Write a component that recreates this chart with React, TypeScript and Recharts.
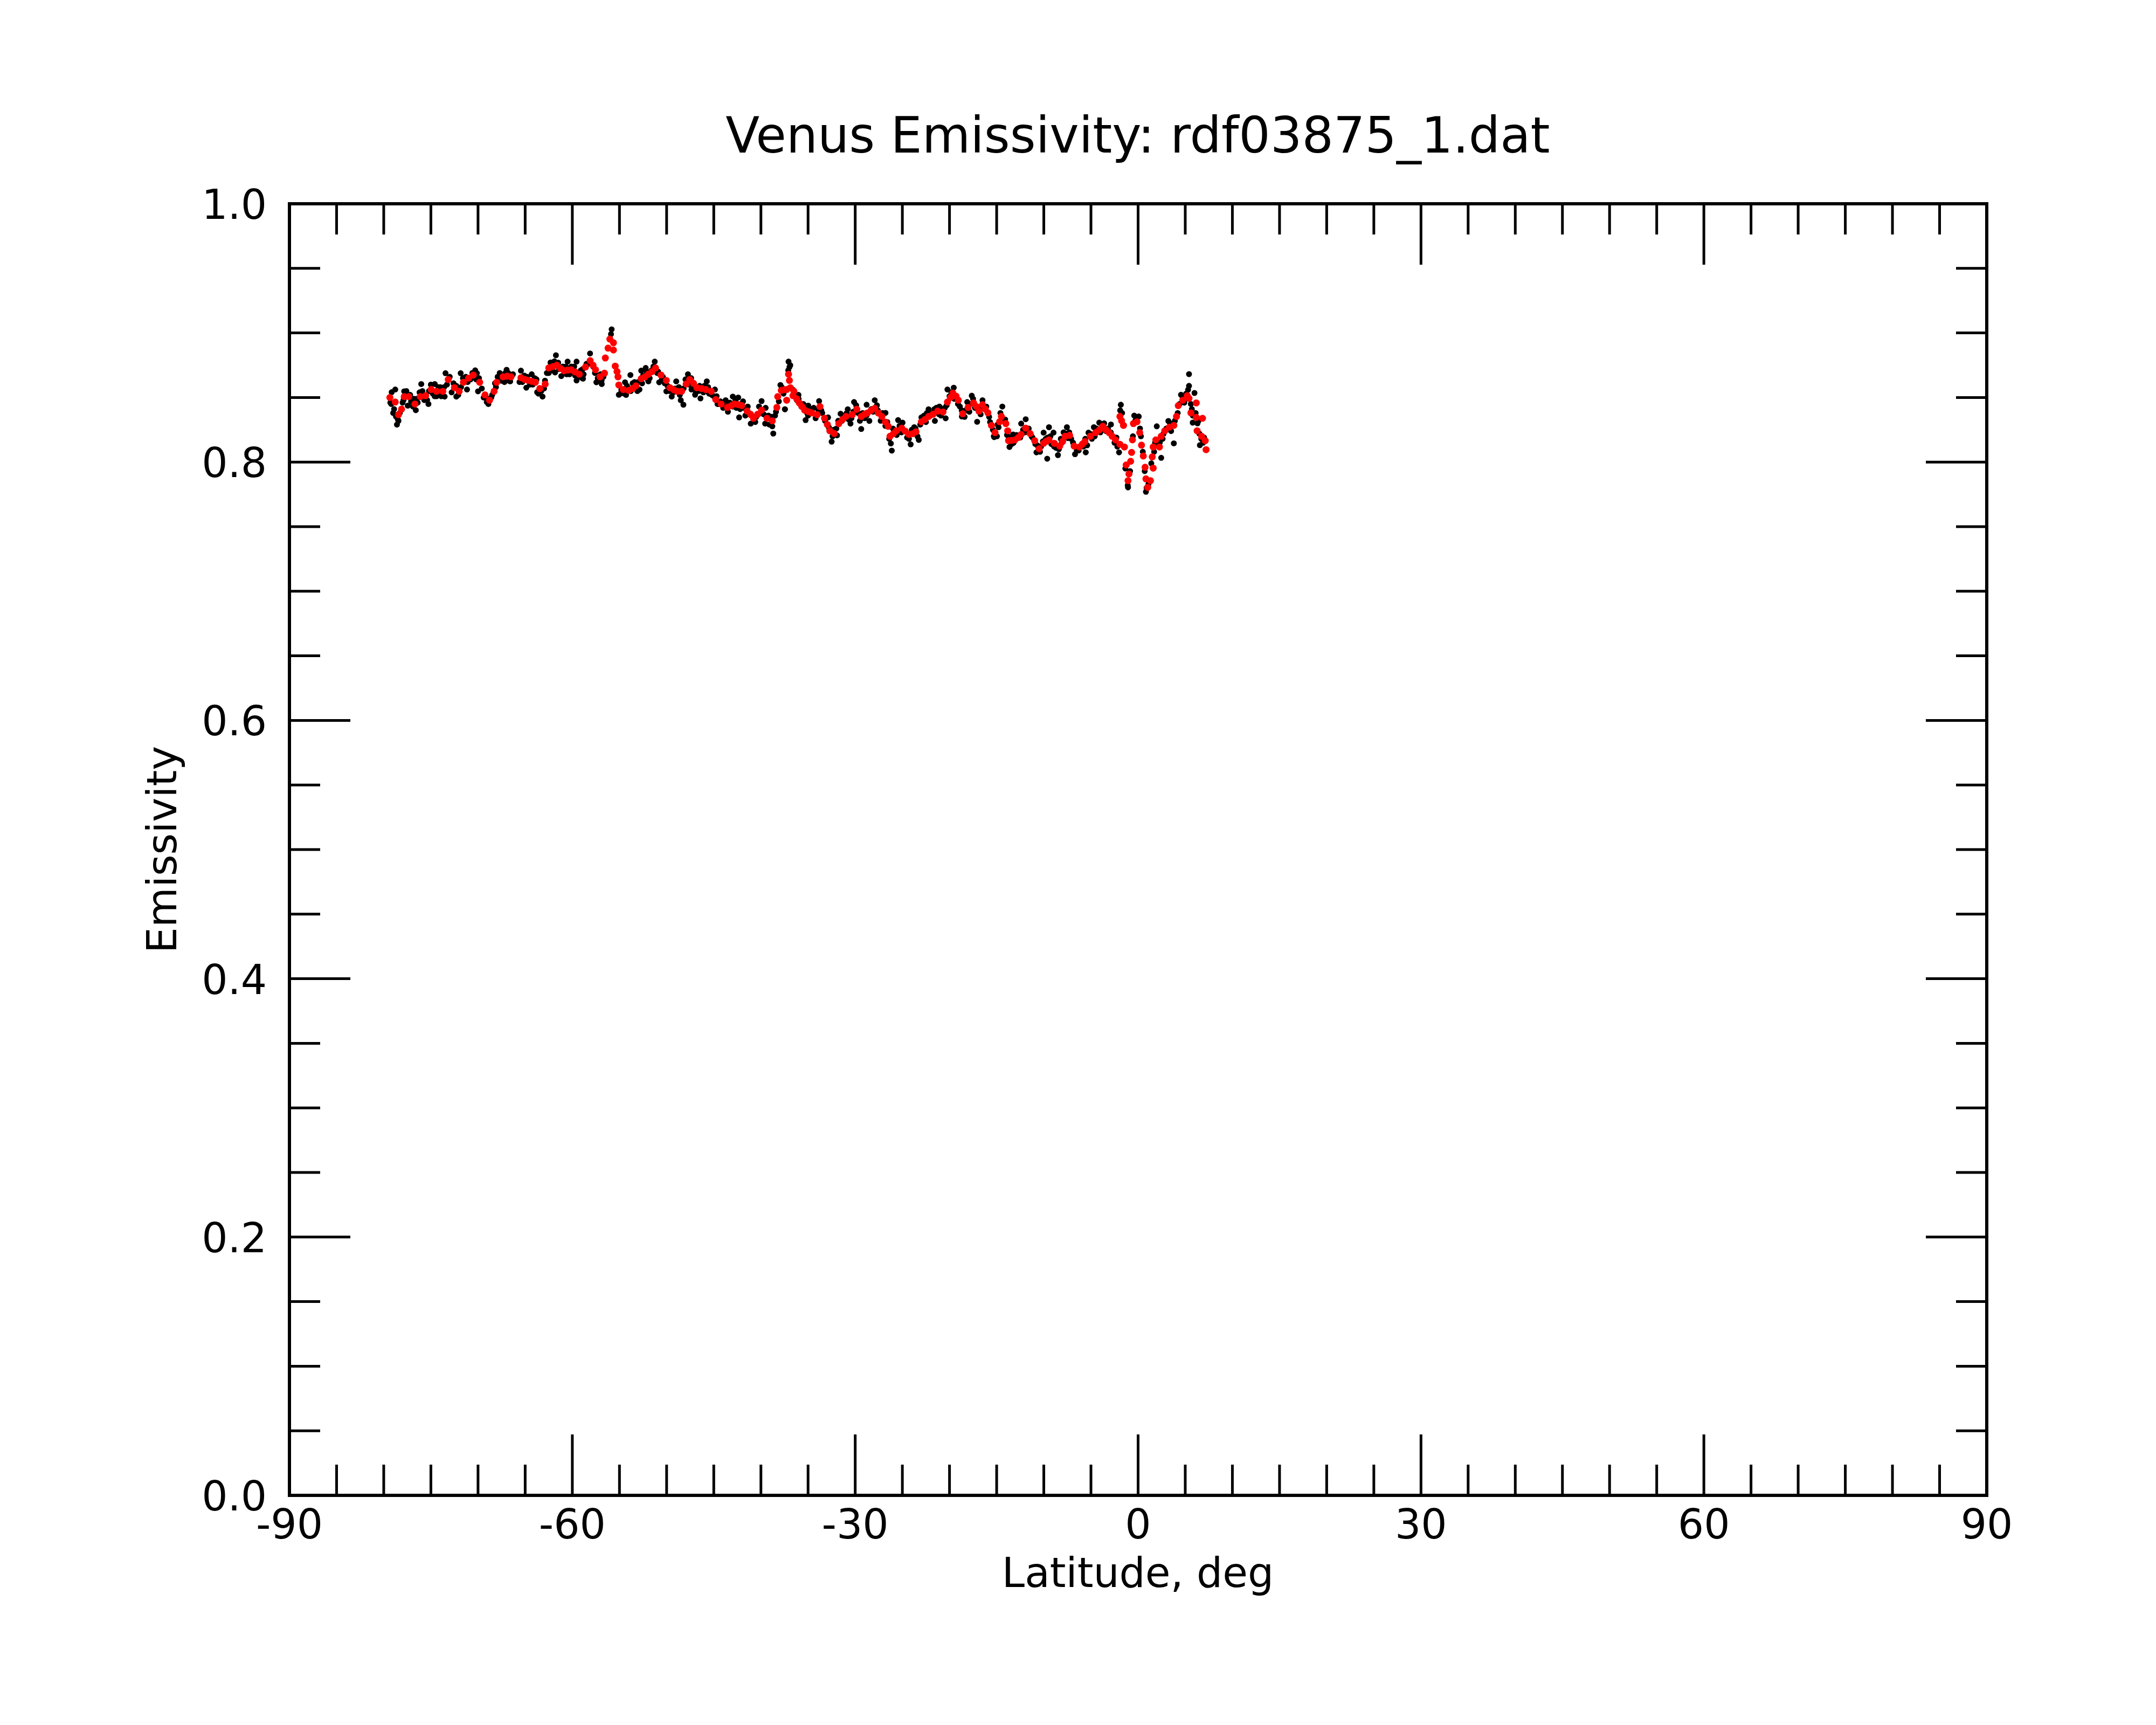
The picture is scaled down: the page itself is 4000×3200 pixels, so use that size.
import { ScatterChart, Scatter, XAxis, YAxis, ReferenceArea } from 'recharts'

// latitude (deg), emissivity — smoothed fit, drawn red
const RED_POINTS: [number, number][] = [
  [-79.35, 0.850], [-78.78, 0.8465], [-78.44, 0.8367], [-78.11, 0.841], [-77.83, 0.8507],
  [-77.35, 0.8507], [-76.69, 0.845], [-76.12, 0.8507], [-75.55, 0.8514], [-74.97, 0.8562],
  [-74.4, 0.8548], [-73.73, 0.8548], [-73.16, 0.8639], [-72.5, 0.8576], [-72.0, 0.8548],
  [-71.55, 0.8618], [-71.0, 0.865], [-70.5, 0.8674], [-69.83, 0.8618], [-69.26, 0.852],
  [-68.78, 0.8479], [-68.3, 0.8548], [-68.02, 0.8618], [-67.35, 0.866], [-66.9, 0.8665],
  [-66.5, 0.866], [-65.45, 0.8653], [-65.05, 0.864], [-64.69, 0.8632], [-64.3, 0.8625],
  [-63.92, 0.8618], [-63.45, 0.8569], [-62.88, 0.8604], [-62.5, 0.8729], [-62.05, 0.874],
  [-61.64, 0.875], [-61.25, 0.8725], [-60.88, 0.8708], [-60.5, 0.8712], [-60.12, 0.8715],
  [-59.7, 0.8698], [-59.26, 0.868], [-58.6, 0.8736], [-58.11, 0.8785], [-57.8, 0.875],
  [-57.54, 0.8715], [-57.06, 0.866], [-56.59, 0.8688], [-56.5, 0.8806], [-56.21, 0.8882],
  [-56.02, 0.8952], [-55.64, 0.8924], [-55.64, 0.8868], [-55.45, 0.8743], [-55.26, 0.8701],
  [-55.16, 0.866], [-55.07, 0.8597], [-54.6, 0.8562], [-54.03, 0.8555], [-53.6, 0.857],
  [-53.26, 0.859], [-52.69, 0.8646], [-52.3, 0.866], [-51.93, 0.868], [-51.55, 0.870],
  [-51.17, 0.8729], [-50.6, 0.8674], [-50.03, 0.8632], [-49.65, 0.8576], [-49.25, 0.856],
  [-48.88, 0.8548], [-48.41, 0.8548], [-47.93, 0.8604], [-47.55, 0.8639], [-47.15, 0.861],
  [-46.79, 0.8576], [-46.3, 0.857], [-45.84, 0.8562], [-45.27, 0.8548], [-44.79, 0.8484],
  [-44.22, 0.845], [-43.55, 0.8423], [-43.15, 0.8437], [-42.79, 0.845], [-42.4, 0.8445],
  [-42.03, 0.8437], [-41.46, 0.8395], [-41.1, 0.837], [-40.79, 0.8339], [-40.35, 0.837],
  [-39.93, 0.8402], [-39.36, 0.8339], [-38.79, 0.8319], [-38.31, 0.8423], [-38.22, 0.8507],
  [-37.84, 0.8555], [-37.55, 0.856], [-37.27, 0.8562], [-37.27, 0.8479], [-37.07, 0.868],
  [-36.98, 0.8632], [-36.88, 0.8576], [-36.6, 0.8514], [-36.5, 0.8548], [-36.2, 0.849],
  [-35.93, 0.8458], [-35.65, 0.843], [-35.36, 0.8402], [-34.95, 0.839], [-34.6, 0.8381],
  [-34.03, 0.8367], [-33.74, 0.843], [-33.26, 0.834], [-32.95, 0.829], [-32.69, 0.8242],
  [-32.22, 0.8221], [-31.74, 0.8298], [-31.35, 0.833], [-30.98, 0.8353], [-30.31, 0.8367],
  [-29.84, 0.8409], [-29.36, 0.8353], [-29.0, 0.837], [-28.69, 0.8381], [-28.3, 0.840],
  [-27.93, 0.8416], [-27.55, 0.838], [-27.17, 0.8353], [-26.8, 0.831], [-26.5, 0.8277],
  [-26.31, 0.82], [-25.95, 0.822], [-25.64, 0.8242], [-25.07, 0.8263], [-24.7, 0.824],
  [-24.31, 0.8214], [-23.9, 0.822], [-23.55, 0.8235], [-22.98, 0.8312], [-22.6, 0.833],
  [-22.22, 0.8353], [-21.75, 0.837], [-21.26, 0.8395], [-20.69, 0.8388], [-20.22, 0.8465],
  [-19.9, 0.850], [-19.64, 0.8534], [-19.3, 0.851], [-19.07, 0.8479], [-18.6, 0.8374],
  [-18.03, 0.8423], [-17.45, 0.8458], [-17.15, 0.843], [-16.88, 0.8395], [-16.5, 0.8444],
  [-16.2, 0.841], [-15.93, 0.8381], [-15.55, 0.8284], [-15.17, 0.8228], [-14.69, 0.8312],
  [-14.5, 0.8353], [-14.02, 0.8298], [-13.83, 0.8242], [-13.74, 0.8166], [-13.4, 0.8168],
  [-13.06, 0.8172], [-12.7, 0.819], [-12.4, 0.8214], [-11.92, 0.8263], [-11.45, 0.8221],
  [-10.97, 0.8166], [-10.5, 0.8103], [-10.02, 0.8145], [-9.75, 0.816], [-9.45, 0.8172],
  [-8.88, 0.8145], [-8.31, 0.8124], [-8.0, 0.816], [-7.74, 0.82], [-7.26, 0.8207],
  [-6.79, 0.8124], [-6.22, 0.8117], [-5.9, 0.814], [-5.64, 0.8159], [-5.07, 0.82],
  [-4.5, 0.8228], [-4.1, 0.825], [-3.74, 0.8277], [-3.4, 0.825], [-3.07, 0.8228],
  [-2.75, 0.820], [-2.4, 0.8172], [-1.93, 0.8138], [-1.93, 0.8353], [-1.75, 0.832],
  [-1.55, 0.8284], [-1.45, 0.8117], [-1.26, 0.7978], [-1.07, 0.7856], [-0.97, 0.7908],
  [-0.79, 0.8006], [-0.69, 0.8075], [-0.6, 0.8172], [-0.5, 0.8298], [-0.12, 0.8312],
  [0.17, 0.8228], [0.36, 0.8131], [0.55, 0.8047], [0.74, 0.796], [0.83, 0.787],
  [1.02, 0.7804], [1.31, 0.7856], [1.5, 0.804], [1.6, 0.7953], [1.6, 0.8117],
  [1.88, 0.8172], [2.26, 0.8117], [2.45, 0.82], [2.83, 0.8242], [3.31, 0.827],
  [3.79, 0.8284], [4.07, 0.8353], [4.26, 0.8437], [4.74, 0.8479], [5.21, 0.8514],
  [5.4, 0.8493], [5.6, 0.8381], [6.17, 0.8346], [6.17, 0.8458], [6.26, 0.8242],
  [6.74, 0.82], [6.83, 0.8339], [7.12, 0.8166], [7.21, 0.8096],
]

// latitude (deg), emissivity — individual samples, drawn black
const BLACK_POINTS: [number, number][] = [
  [-79.3, 0.846], [-79.16, 0.8541], [-79.2, 0.845], [-78.9, 0.841], [-78.78, 0.8562],
  [-78.7, 0.8353], [-78.5, 0.833], [-78.44, 0.8319], [-78.0, 0.846], [-77.83, 0.8548],
  [-77.6, 0.855], [-77.45, 0.8437], [-77.1, 0.847], [-76.8, 0.849], [-76.6, 0.8402],
  [-76.4, 0.846], [-76.02, 0.8604], [-75.9, 0.855], [-75.4, 0.848], [-75.26, 0.845],
  [-75.0, 0.860], [-74.59, 0.8604], [-74.6, 0.851], [-74.2, 0.858], [-74.1, 0.8527],
  [-73.9, 0.851], [-73.54, 0.8507], [-73.45, 0.8688], [-73.3, 0.860], [-72.8, 0.854],
  [-72.3, 0.8507], [-72.3, 0.859], [-71.84, 0.8688], [-71.8, 0.858], [-71.3, 0.866],
  [-71.17, 0.8562], [-70.8, 0.864], [-70.3, 0.871], [-70.12, 0.8688], [-70.0, 0.8548],
  [-69.6, 0.857], [-69.07, 0.8465], [-69.0, 0.849], [-68.5, 0.852], [-68.1, 0.858],
  [-67.92, 0.866], [-67.7, 0.869], [-67.2, 0.862], [-66.97, 0.8715], [-66.8, 0.869],
  [-66.59, 0.8625], [-65.6, 0.862], [-65.45, 0.8708], [-65.1, 0.867], [-64.88, 0.8576],
  [-64.5, 0.860], [-64.31, 0.868], [-64.0, 0.865], [-63.73, 0.8541], [-63.6, 0.853],
  [-63.16, 0.8507], [-63.0, 0.857], [-62.7, 0.869], [-62.31, 0.8771], [-62.1, 0.871],
  [-61.9, 0.878], [-61.83, 0.8694], [-61.74, 0.8827], [-61.4, 0.872], [-61.17, 0.8666],
  [-60.7, 0.874], [-60.5, 0.8778], [-60.3, 0.868], [-59.8, 0.874], [-59.55, 0.8778],
  [-59.55, 0.8632], [-59.1, 0.871], [-58.98, 0.8652], [-58.87, 0.8646], [-58.8, 0.868],
  [-58.3, 0.876], [-58.12, 0.8841], [-57.8, 0.874], [-57.45, 0.8618], [-57.3, 0.865],
  [-56.9, 0.863], [-56.88, 0.8604], [-55.9, 0.899], [-55.83, 0.9028], [-55.07, 0.8521],
  [-54.9, 0.853], [-54.5, 0.853], [-54.41, 0.8618], [-54.2, 0.859], [-53.84, 0.8674],
  [-53.6, 0.861], [-53.1, 0.855], [-52.88, 0.8562], [-52.69, 0.8708], [-52.5, 0.867],
  [-52.22, 0.8729], [-52.0, 0.864], [-51.93, 0.8625], [-51.6, 0.871], [-51.26, 0.8778],
  [-51.0, 0.869], [-50.79, 0.8618], [-50.4, 0.866], [-50.03, 0.8548], [-49.9, 0.859],
  [-49.46, 0.8507], [-49.3, 0.854], [-48.98, 0.8625], [-48.7, 0.858], [-48.5, 0.8479],
  [-48.22, 0.8444], [-48.0, 0.864], [-47.74, 0.868], [-47.6, 0.860], [-47.36, 0.8562],
  [-47.1, 0.860], [-46.98, 0.8521], [-46.6, 0.855], [-46.41, 0.8493], [-46.0, 0.859],
  [-45.74, 0.8625], [-45.5, 0.853], [-45.0, 0.851], [-44.88, 0.8562], [-44.6, 0.845],
  [-44.5, 0.845], [-44.0, 0.842], [-43.74, 0.8479], [-43.3, 0.846], [-42.98, 0.8507],
  [-42.6, 0.842], [-42.41, 0.850], [-42.31, 0.8346], [-41.9, 0.847], [-41.65, 0.836],
  [-41.3, 0.837], [-41.08, 0.8298], [-40.6, 0.831], [-40.2, 0.843], [-39.93, 0.8472],
  [-39.7, 0.837], [-39.55, 0.8298], [-39.1, 0.829], [-38.79, 0.8277], [-38.69, 0.8221],
  [-38.5, 0.836], [-38.1, 0.847], [-37.93, 0.8597], [-37.6, 0.853], [-37.46, 0.8409],
  [-37.45, 0.8409], [-37.1, 0.871], [-37.07, 0.8778], [-36.97, 0.8736], [-36.89, 0.875],
  [-36.6, 0.856], [-36.2, 0.848], [-36.02, 0.852], [-35.7, 0.843], [-35.26, 0.8325],
  [-35.1, 0.838], [-34.98, 0.8437], [-34.4, 0.842], [-33.9, 0.840], [-33.83, 0.8472],
  [-33.5, 0.838], [-33.0, 0.829], [-32.88, 0.8346], [-32.5, 0.8158], [-32.4, 0.820],
  [-32.0, 0.826], [-31.93, 0.8207], [-31.55, 0.8374], [-31.4, 0.832], [-30.9, 0.838],
  [-30.79, 0.8409], [-30.5, 0.8298], [-30.4, 0.834], [-30.12, 0.8465], [-29.9, 0.844],
  [-29.5, 0.832], [-29.36, 0.8256], [-29.0, 0.834], [-28.79, 0.8444], [-28.5, 0.8319],
  [-28.3, 0.841], [-27.93, 0.8479], [-27.7, 0.844], [-27.3, 0.832], [-26.79, 0.8381],
  [-26.8, 0.828], [-26.4, 0.818], [-26.22, 0.8144], [-26.12, 0.8089], [-25.9, 0.822],
  [-25.45, 0.8325], [-25.3, 0.828], [-24.98, 0.8305], [-24.7, 0.824], [-24.3, 0.818],
  [-24.12, 0.8137], [-23.9, 0.822], [-23.74, 0.827], [-23.4, 0.820], [-23.26, 0.8172],
  [-22.98, 0.8346], [-22.7, 0.836], [-22.4, 0.838], [-22.22, 0.8409], [-21.8, 0.838],
  [-21.55, 0.8319], [-21.4, 0.842], [-21.07, 0.843], [-20.9, 0.836], [-20.5, 0.842],
  [-20.41, 0.8339], [-20.22, 0.8562], [-20.0, 0.851], [-19.55, 0.8576], [-19.3, 0.850],
  [-18.9, 0.843], [-18.69, 0.8353], [-18.4, 0.835], [-18.12, 0.8465], [-17.8, 0.845],
  [-17.64, 0.8514], [-17.3, 0.842], [-17.07, 0.8312], [-16.7, 0.837], [-16.5, 0.8479],
  [-16.3, 0.841], [-15.8, 0.835], [-15.4, 0.825], [-15.26, 0.8193], [-14.97, 0.82],
  [-14.8, 0.827], [-14.4, 0.843], [-14.3, 0.832], [-13.9, 0.821], [-13.64, 0.8117],
  [-13.4, 0.814], [-13.26, 0.8214], [-12.8, 0.819], [-12.4, 0.8298], [-12.2, 0.825],
  [-11.92, 0.8332], [-11.7, 0.824], [-11.2, 0.819], [-10.78, 0.8075], [-10.7, 0.813],
  [-10.3, 0.812], [-10.02, 0.8228], [-9.8, 0.818], [-9.64, 0.8026], [-9.45, 0.827],
  [-9.2, 0.814], [-8.97, 0.8228], [-8.7, 0.811], [-8.5, 0.8054], [-8.1, 0.815],
  [-7.9, 0.823], [-7.55, 0.827], [-7.45, 0.8186], [-7.1, 0.818], [-6.69, 0.8061],
  [-6.5, 0.809], [-6.0, 0.813], [-5.55, 0.8075], [-5.4, 0.813], [-5.26, 0.8228],
  [-4.9, 0.818], [-4.69, 0.827], [-4.3, 0.825], [-4.12, 0.8305], [-3.9, 0.825],
  [-3.4, 0.824], [-2.88, 0.8291], [-2.7, 0.820], [-2.2, 0.812], [-2.02, 0.8075],
  [-1.9, 0.840], [-1.83, 0.8444], [-1.1, 0.782], [-1.07, 0.7804], [-0.41, 0.836],
  [-0.3, 0.832], [0.07, 0.8353], [0.3, 0.820], [0.83, 0.777], [0.9, 0.780],
  [1.7, 0.808], [1.98, 0.8277], [2.1, 0.813], [2.45, 0.8033], [2.7, 0.822],
  [3.21, 0.8318], [3.5, 0.824], [3.79, 0.8145], [4.2, 0.838], [4.55, 0.8521],
  [4.9, 0.846], [5.1, 0.853], [5.4, 0.8681], [5.4, 0.859], [5.6, 0.845],
  [5.79, 0.8305], [5.8, 0.836], [5.98, 0.8535], [6.3, 0.830], [6.5, 0.822],
  [6.55, 0.8131], [6.9, 0.815],
  // samples hugging the fit
  [-79.0, 0.838], [-78.6, 0.829], [-78.3, 0.838], [-77.9, 0.848], [-77.5, 0.852],
  [-77.2, 0.852], [-76.9, 0.843], [-76.5, 0.849], [-76.2, 0.854], [-75.7, 0.848],
  [-75.2, 0.855], [-74.8, 0.853], [-74.4, 0.851], [-74.0, 0.858], [-73.6, 0.858],
  [-73.0, 0.866], [-72.6, 0.861], [-72.1, 0.852], [-71.6, 0.865], [-71.1, 0.862],
  [-70.6, 0.869], [-70.2, 0.864], [-69.9, 0.865], [-69.4, 0.850], [-68.9, 0.845],
  [-68.6, 0.850], [-68.2, 0.861], [-67.5, 0.863], [-67.1, 0.869], [-66.7, 0.863],
  [-66.3, 0.868], [-65.3, 0.862], [-64.8, 0.866], [-64.2, 0.860], [-63.8, 0.864],
  [-63.3, 0.855], [-62.9, 0.863], [-62.5, 0.869], [-62.0, 0.876], [-61.5, 0.877],
  [-61.0, 0.874], [-60.6, 0.868], [-60.1, 0.874], [-59.7, 0.867], [-59.3, 0.866],
  [-58.9, 0.872], [-58.5, 0.876], [-57.6, 0.869], [-57.0, 0.868], [-56.7, 0.866],
  [-54.8, 0.856], [-54.3, 0.852], [-53.8, 0.855], [-53.4, 0.862], [-53.0, 0.862],
  [-52.6, 0.861], [-52.1, 0.870], [-51.8, 0.865], [-51.4, 0.874], [-50.9, 0.870],
  [-50.5, 0.864], [-50.2, 0.861], [-49.7, 0.855], [-49.1, 0.857], [-48.6, 0.852],
  [-48.2, 0.857], [-47.8, 0.862], [-47.4, 0.865], [-46.9, 0.855], [-46.5, 0.859],
  [-46.1, 0.854], [-45.6, 0.858], [-45.2, 0.852], [-44.7, 0.851], [-44.3, 0.847],
  [-43.9, 0.845], [-43.5, 0.839], [-43.0, 0.843], [-42.7, 0.848], [-42.2, 0.841],
  [-41.8, 0.842], [-41.4, 0.843], [-41.0, 0.836], [-40.5, 0.835], [-40.0, 0.838],
  [-39.5, 0.842], [-39.2, 0.836], [-38.9, 0.835], [-38.4, 0.839], [-37.8, 0.858],
  [-36.4, 0.853], [-36.0, 0.849], [-35.5, 0.845], [-35.0, 0.836], [-34.7, 0.841],
  [-34.2, 0.834], [-33.6, 0.840], [-33.2, 0.832], [-32.8, 0.827], [-32.3, 0.825],
  [-31.8, 0.832], [-31.2, 0.836], [-30.7, 0.833], [-30.2, 0.839], [-29.7, 0.838],
  [-29.2, 0.838], [-28.8, 0.836], [-28.1, 0.839], [-27.6, 0.840], [-27.1, 0.838],
  [-26.6, 0.831], [-26.0, 0.826], [-25.6, 0.821], [-25.1, 0.823], [-24.5, 0.819],
  [-24.0, 0.825], [-23.6, 0.826], [-23.1, 0.829], [-22.5, 0.831], [-22.0, 0.836],
  [-21.6, 0.841], [-21.1, 0.837], [-20.7, 0.841], [-20.3, 0.844], [-19.8, 0.854],
  [-19.5, 0.849], [-19.1, 0.845], [-18.7, 0.840], [-18.3, 0.840], [-17.9, 0.839],
  [-17.5, 0.849], [-17.0, 0.841], [-16.6, 0.842], [-16.1, 0.843], [-15.7, 0.831],
  [-15.3, 0.820], [-14.9, 0.829], [-14.6, 0.838], [-14.1, 0.833], [-13.7, 0.819],
  [-13.2, 0.815], [-12.9, 0.821], [-12.5, 0.819], [-12.0, 0.823], [-11.6, 0.826],
  [-11.3, 0.820], [-10.9, 0.814], [-10.4, 0.808], [-10.1, 0.816], [-9.6, 0.819],
  [-9.3, 0.820], [-8.9, 0.812], [-8.4, 0.810], [-8.2, 0.818], [-7.7, 0.822],
  [-7.3, 0.823], [-6.9, 0.815], [-6.3, 0.809], [-5.8, 0.812], [-5.6, 0.818],
  [-5.1, 0.822], [-4.6, 0.820], [-4.4, 0.826], [-4.0, 0.823], [-3.6, 0.830],
  [-3.2, 0.826], [-2.9, 0.823], [-2.5, 0.815], [-2.3, 0.819], [-1.7, 0.838],
  [-1.35, 0.795], [-0.85, 0.793], [-0.55, 0.820], [-0.2, 0.834], [0.2, 0.826],
  [0.5, 0.808], [0.7, 0.793], [1.1, 0.783], [1.4, 0.799], [1.8, 0.815],
  [2.3, 0.815], [2.6, 0.818], [3.0, 0.826], [3.4, 0.830], [3.9, 0.832],
  [4.4, 0.845], [4.7, 0.851], [5.0, 0.849], [5.3, 0.856], [5.7, 0.841],
  [6.1, 0.838], [6.4, 0.832], [6.7, 0.818], [7.0, 0.819],
]

const X_TICKS = [-90, -85, -80, -75, -70, -65, -60, -55, -50, -45, -40, -35, -30, -25, -20, -15, -10, -5,
  0, 5, 10, 15, 20, 25, 30, 35, 40, 45, 50, 55, 60, 65, 70, 75, 80, 85, 90]
const X_LABELS = [-90, -60, -30, 0, 30, 60, 90]
const Y_TICKS = [0, 0.05, 0.1, 0.15, 0.2, 0.25, 0.3, 0.35, 0.4, 0.45, 0.5, 0.55, 0.6, 0.65, 0.7, 0.75,
  0.8, 0.85, 0.9, 0.95, 1.0]
const Y_LABELS = [0, 0.2, 0.4, 0.6, 0.8, 1.0]

const TITLE = 'Venus Emissivity: rdf03875_1.dat'
const X_TITLE = 'Latitude, deg'
const Y_TITLE = 'Emissivity'

const W = 4000
const H = 3200
// axes take 1px each, so the plot box lands on 537..3686 x 378..2774
const M = { top: 377, right: 313, bottom: 425, left: 536 }
const FONT = '"DejaVu Sans", sans-serif'
const MAJOR = 113
const MINOR = 57
const TICK_W = 5

const red = RED_POINTS.map(([lat, val]) => ({ lat, val }))
const black = BLACK_POINTS.map(([lat, val]) => ({ lat, val }))

const isMajorY = (v: number) => Y_LABELS.some(l => Math.abs(l - v) < 1e-6)

function XTick(props: any) {
  const { x, y, payload, top } = props
  const v = payload.value
  const major = X_LABELS.includes(v)
  const len = major ? MAJOR : MINOR
  return (
    <g>
      <line x1={x} x2={x} y1={y} y2={top ? y + len : y - len} stroke="#000" strokeWidth={TICK_W} />
      {!top && major && (
        <text x={x} y={y + 80} textAnchor="middle" fontFamily={FONT} fontSize={76} fill="#000">{v}</text>
      )}
    </g>
  )
}

function YTick(props: any) {
  const { x, y, payload, right } = props
  const v = payload.value
  const major = isMajorY(v)
  const len = major ? MAJOR : MINOR
  return (
    <g>
      <line x1={x} x2={right ? x - len : x + len} y1={y} y2={y} stroke="#000" strokeWidth={TICK_W} />
      {!right && major && (
        <text x={x - 42} y={y + 28} textAnchor="end" fontFamily={FONT} fontSize={76} fill="#000">{v.toFixed(1)}</text>
      )}
    </g>
  )
}

const dot = (r: number, fill: string) => (p: any) => <circle cx={p.cx} cy={p.cy} r={r} fill={fill} />

export default function App() {
  return (
    <div style={{ position: 'fixed', left: 0, top: 0, width: W, height: H, background: '#fff' }}>
      <ScatterChart width={W} height={H} margin={M}>
        <XAxis xAxisId="b" type="number" dataKey="lat" domain={[-90, 90]} ticks={X_TICKS} interval={0}
          orientation="bottom" height={1} tickSize={0} tickMargin={0} axisLine={false} tickLine={false}
          allowDataOverflow tick={<XTick />} />
        <XAxis xAxisId="t" type="number" dataKey="lat" domain={[-90, 90]} ticks={X_TICKS} interval={0}
          orientation="top" height={1} tickSize={0} tickMargin={0} axisLine={false} tickLine={false}
          allowDataOverflow tick={<XTick top />} />
        <YAxis yAxisId="l" type="number" dataKey="val" domain={[0, 1]} ticks={Y_TICKS} interval={0}
          orientation="left" width={1} tickSize={0} tickMargin={0} axisLine={false} tickLine={false}
          allowDataOverflow tick={<YTick />} />
        <YAxis yAxisId="r" type="number" dataKey="val" domain={[0, 1]} ticks={Y_TICKS} interval={0}
          orientation="right" width={1} tickSize={0} tickMargin={0} axisLine={false} tickLine={false}
          allowDataOverflow tick={<YTick right />} />
        <ReferenceArea xAxisId="b" yAxisId="l" x1={-90} x2={90} y1={0} y2={1}
          fill="none" stroke="#000" strokeWidth={6} />
        <Scatter xAxisId="b" yAxisId="l" data={black} fill="#000" shape={dot(5.5, '#000')} isAnimationActive={false} />
        <Scatter xAxisId="t" yAxisId="r" data={red} fill="#ff0000" shape={dot(6.5, '#ff0000')} isAnimationActive={false} />
      </ScatterChart>
      <svg width={W} height={H} style={{ position: 'absolute', left: 0, top: 0, pointerEvents: 'none' }}>
        <text x={2111} y={283} textAnchor="middle" fontFamily={FONT} fontSize={92} fill="#000">{TITLE}</text>
        <text x={2111} y={2944} textAnchor="middle" fontFamily={FONT} fontSize={76} fill="#000">{X_TITLE}</text>
        <text x={327} y={1576} textAnchor="middle" fontFamily={FONT} fontSize={76} fill="#000"
          transform="rotate(-90 327 1576)">{Y_TITLE}</text>
      </svg>
    </div>
  )
}
